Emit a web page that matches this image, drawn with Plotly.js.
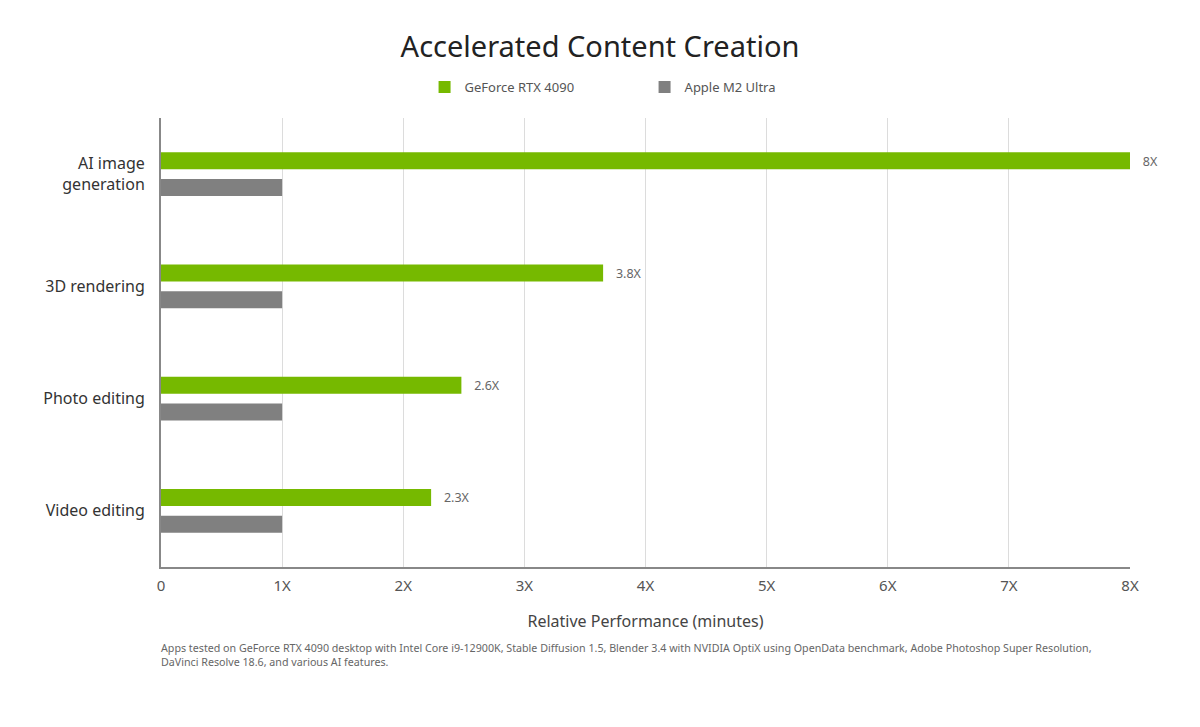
<!DOCTYPE html>
<html>
<head>
<meta charset="utf-8">
<script src="https://cdn.plot.ly/plotly-3.0.1.min.js"></script>
<style>
  html, body { margin: 0; padding: 0; background: #fff; }
  #container { width: 1200px; height: 727px; }
</style>
</head>
<body>
<div id="container"></div>
<script>
var categories = ['AI image<br>generation', '3D rendering', 'Photo editing', 'Video editing'];
var rtxValues = [8, 3.65, 2.48, 2.23];
var rtxLabels = ['8X', '3.8X', '2.6X', '2.3X'];
var m2Values = [1, 1, 1, 1];
var tickVals = [0, 1, 2, 3, 4, 5, 6, 7, 8];
var tickText = ['0', '1X', '2X', '3X', '4X', '5X', '6X', '7X', '8X'];
var footnote = 'Apps tested on GeForce RTX 4090 desktop with Intel Core i9-12900K, Stable Diffusion 1.5, Blender 3.4 with NVIDIA OptiX using OpenData benchmark, Adobe Photoshop Super Resolution,<br>DaVinci Resolve 18.6, and various AI features.';

var fontFam = 'Noto Sans, sans-serif';

// pad the outside labels a little away from the bar ends
var paddedLabels = rtxLabels.map(function (t) { return '\u00a0\u00a0\u00a0' + t; });

var rtx = {
    type: 'bar',
    orientation: 'h',
    name: 'GeForce RTX 4090',
    y: categories,
    x: rtxValues,
    text: paddedLabels,
    textposition: 'outside',
    textfont: {family: fontFam, size: 14, color: '#666'},
    cliponaxis: false,
    marker: {color: '#76b900'},
    hoverinfo: 'none'
};

var m2 = {
    type: 'bar',
    orientation: 'h',
    name: 'Apple M2 Ultra',
    y: categories,
    x: m2Values,
    marker: {color: '#808080'},
    hoverinfo: 'none'
};

var layout = {
    width: 1200,
    height: 727,
    paper_bgcolor: '#fff',
    plot_bgcolor: '#fff',
    font: {family: fontFam, color: '#333'},
    margin: {l: 161, r: 70, t: 118, b: 160},
    barmode: 'group',
    bargap: 0.52,
    bargroupgap: 0.37,
    title: {
        text: 'Accelerated Content Creation',
        font: {family: fontFam, size: 29, color: '#222'},
        x: 0.5,
        xanchor: 'center',
        y: 1 - 47 / 727,
        yanchor: 'middle'
    },
    showlegend: true,
    legend: {
        orientation: 'h',
        x: 0.272,
        xanchor: 'left',
        yref: 'container',
        y: 1 - 87 / 727,
        yanchor: 'middle',
        entrywidth: 175,
        font: {family: fontFam, size: 13, color: '#555'},
        traceorder: 'normal'
    },
    xaxis: {
        range: [0, 8],
        tickvals: tickVals,
        ticktext: tickText,
        showgrid: true,
        gridcolor: '#dcdcdc',
        gridwidth: 1,
        zeroline: false,
        showline: true,
        linecolor: '#888',
        linewidth: 2,
        ticks: '',
        ticklabelstandoff: 4,
        tickfont: {family: fontFam, size: 15, color: '#555'},
        title: {
            text: 'Relative Performance (minutes)',
            font: {family: fontFam, size: 16, color: '#444'},
            standoff: 22
        },
        fixedrange: true
    },
    yaxis: {
        autorange: 'reversed',
        showgrid: false,
        zeroline: false,
        showline: true,
        linecolor: '#888',
        linewidth: 2,
        ticks: '',
        ticklabelstandoff: 11,
        tickfont: {family: fontFam, size: 16, color: '#333'},
        fixedrange: true
    },
    annotations: [{
        text: footnote,
        xref: 'paper',
        yref: 'paper',
        x: -2 / 969,
        xanchor: 'left',
        y: (567 - 655) / 449,
        yanchor: 'middle',
        align: 'left',
        showarrow: false,
        font: {family: fontFam, size: 10.7, color: '#666'}
    }]
};

Plotly.newPlot('container', [rtx, m2], layout, {displayModeBar: false, staticPlot: true});
</script>
</body>
</html>
